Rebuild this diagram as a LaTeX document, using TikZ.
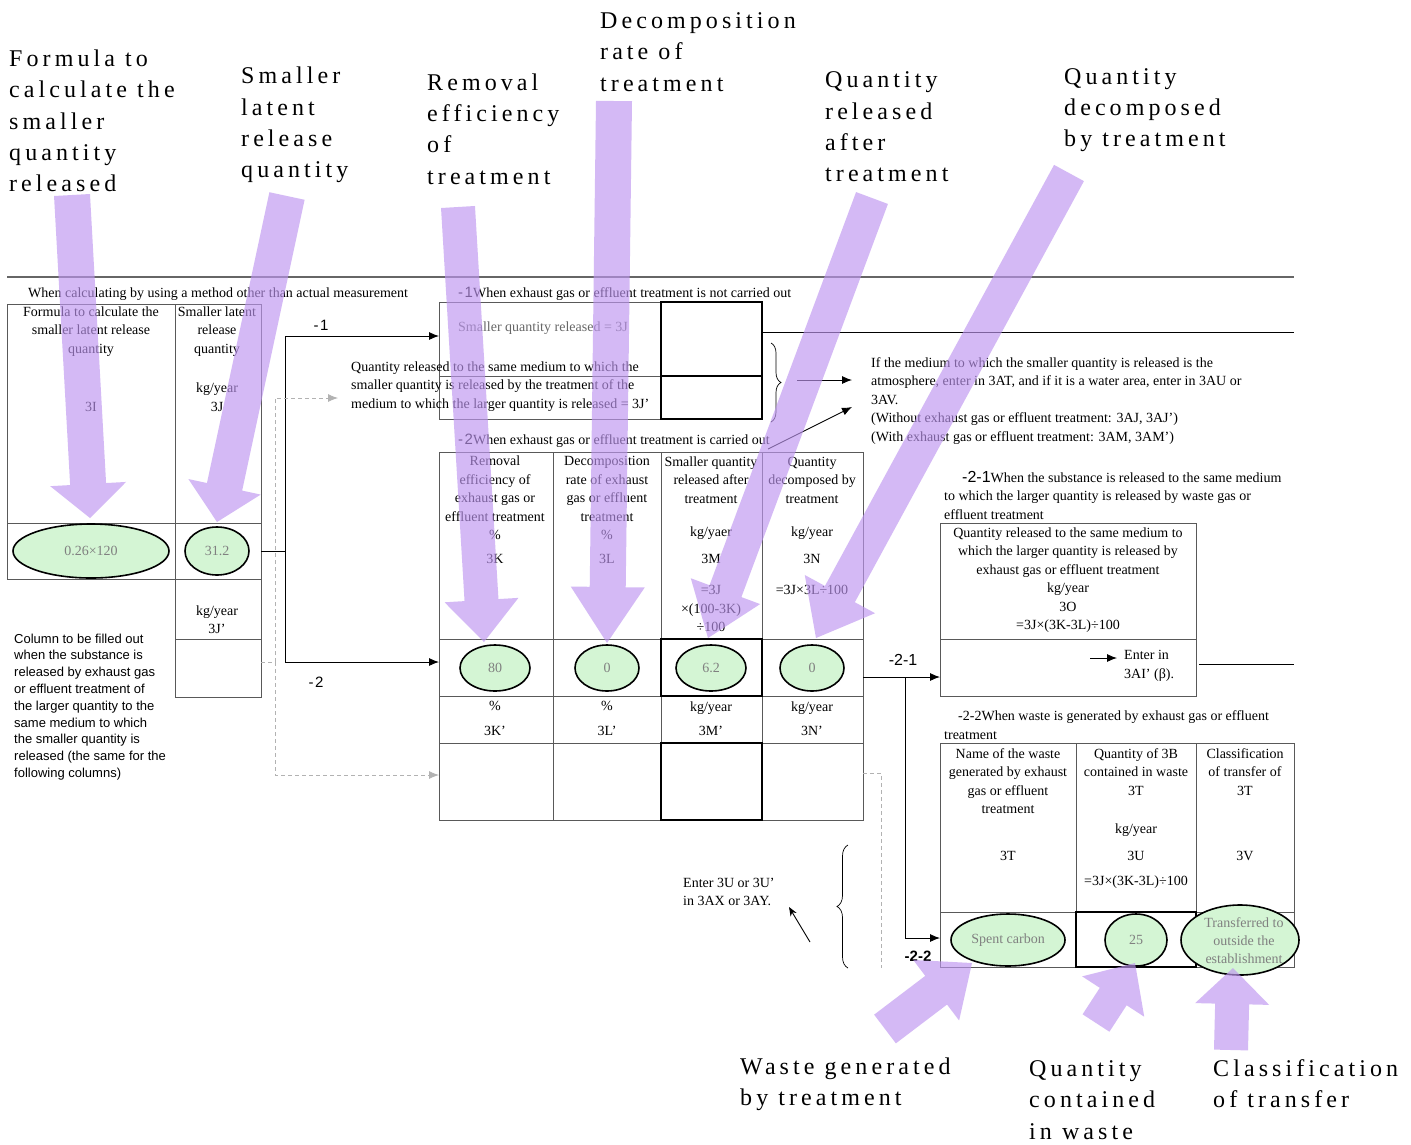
\documentclass[tikz,border=0pt]{standalone}
\usepackage{fontspec}
\setmainfont{Liberation Serif}
\setsansfont{Liberation Sans}
\newfontfamily\spacedfont[LetterSpace=17]{Liberation Serif}
\usetikzlibrary{arrows.meta,calc,shapes.geometric,decorations.pathreplacing}
\definecolor{lav}{RGB}{190,150,240}
\definecolor{egreen}{RGB}{212,245,212}
\newcommand{\bigarrow}[7]{%
  \coordinate (pa) at (#1,#2); \coordinate (pb) at (#3,#4);
  \coordinate (ph) at ($(pb)!#7pt!(pa)$);
  \fill[parrow] ($(pa)!#5pt!90:(pb)$) -- ($(ph)!#5pt!-90:(pa)$) -- ($(ph)!#6pt!-90:(pa)$) -- (pb)
    -- ($(ph)!#6pt!90:(pa)$) -- ($(ph)!#5pt!90:(pa)$) -- ($(pa)!#5pt!-90:(pb)$) -- cycle;}
\tikzset{
  cellbox/.style={draw=black!65, line width=0.9pt, inner sep=0pt, outer sep=0pt, anchor=north west},
  thk/.style={draw=black, line width=2pt},
  txt/.style={font=\fontsize{14}{18.5}\selectfont, inner sep=0pt, align=center},
  txl/.style={txt, align=left, anchor=west},
  big/.style={font=\spacedfont\fontsize{24}{31.3}\selectfont, inner sep=0pt, align=left, anchor=west},
  ell/.style={ellipse, draw=black, line width=1.6pt, fill=egreen, inner sep=0pt, text=black!50, font=\fontsize{14}{18}\selectfont},
  conn/.style={draw=black, line width=0.9pt},
  arr/.style={conn, -{Latex[length=10pt,width=8pt]}},
  gdash/.style={draw=black!30, dash pattern=on 4pt off 3pt, line width=0.8pt},
  garr/.style={gdash, -{Latex[length=10pt,width=8pt]}},
  lab/.style={font=\sffamily\fontsize{15}{15}\selectfont, inner sep=0pt},
  parrow/.style={fill=lav, fill opacity=0.66},
}
\begin{document}
\begin{tikzpicture}[x=1pt,y=-1pt]
\useasboundingbox (0,0) rectangle (1411,1144);
\fill[white] (0,0) rectangle (1411,1144);

% top rule
\coordinate (hl0) at (7,277); \coordinate (hl1) at (1294,277);
\draw[draw=black!60, line width=1.5pt] (hl0) -- (hl1);

% big labels
\node[big] (bl1) at (9,121) {Formula to\\calculate the\\smaller\\quantity\\released};
\node[big] (bl2) at (241,125) {Smaller\\latent\\release\\quantity};
\node[big] (bl3) at (427,129) {Removal\\efficiency\\of\\treatment};
\node[big] (bl4) at (600,52) {Decomposition\\rate of\\treatment};
\node[big] (bl5) at (825,127) {Quantity\\released\\after\\treatment};
\node[big] (bl6) at (1064,110) {Quantity\\decomposed\\by treatment};
\node[big] (bl7) at (740,1084) {Waste generated\\by treatment};
\node[big] (bl8) at (1029,1100) {Quantity\\contained\\in waste};
\node[big] (bl9) at (1213,1084) {Classification\\of transfer};

% left table
\node[txl] (hdr) at (28,294) {When calculating by using a method other than actual measurement};
\node[cellbox, minimum width=168pt, minimum height=219pt] (L1) at (7,304) {};
\node[cellbox, minimum width=168pt, minimum height=56pt] (L2) at (7,523) {};
\node[cellbox, minimum width=86pt, minimum height=219pt] (R1) at (175,304) {};
\node[cellbox, minimum width=86pt, minimum height=56pt] (R2) at (175,523) {};
\node[cellbox, minimum width=86pt, minimum height=60pt] (R3) at (175,579) {};
\node[cellbox, minimum width=86pt, minimum height=58pt] (R4) at (175,639) {};
\node[txt] (h3Ia) at (91,331.5) {Formula to calculate the\\smaller latent release\\quantity};
\node[txt] (h3I) at (91,407) {3I};
\node[txt] (h3Ja) at (217,331.5) {Smaller latent\\release\\quantity};
\node[txt] (h3Jb) at (217,397) {kg/year\\3J};
\node[txt] (h3Jc) at (217,619.5) {kg/year\\3J'};
\node[ell, minimum width=156pt, minimum height=54pt] (e026) at (91,551) {0.26×120};
\node[ell, minimum width=64pt, minimum height=48pt] (e312) at (217,551) {31.2};
\node[font=\sffamily\fontsize{13}{16.8}\selectfont, align=left, anchor=west, inner sep=0pt] (coltxt) at (14,707)
  {Column to be filled out\\when the substance is\\released by exhaust gas\\or effluent treatment of\\the larger quantity to the\\same medium to which\\the smaller quantity is\\released (the same for the\\following columns)};

% -1 box
\node[txl] (t1hdr) at (458,294) {{\sffamily\fontsize{15}{15}\selectfont -\kern1.5pt 1}When exhaust gas or effluent treatment is not carried out};
\node[cellbox, minimum width=222pt, minimum height=74pt] (B1a) at (439,302) {};
\node[cellbox, minimum width=222pt, minimum height=43pt] (B1b) at (439,376) {};
\node[cellbox, thk, minimum width=101pt, minimum height=74pt] (B1c) at (661,302) {};
\node[cellbox, thk, minimum width=101pt, minimum height=43pt] (B1d) at (661,376) {};
\node[txt, text=black!60] (t1a) at (543,328) {Smaller quantity released = 3J};
\node[txl] (t1b) at (351,386.5) {Quantity released to the same medium to which the\\smaller quantity is released by the treatment of the\\medium to which the larger quantity is released = 3J'};
\node[txl] (medtxt) at (871,401) {If the medium to which the smaller quantity is released is the\\atmosphere, enter in 3AT, and if it is a water area, enter in 3AU or\\3AV.\\(Without exhaust gas or effluent treatment: 3AJ, 3AJ')\\(With exhaust gas or effluent treatment: 3AM, 3AM')};

% -2 table
\node[txl] (t2hdr) at (458,441) {{\sffamily\fontsize{15}{15}\selectfont -\kern1.5pt 2}When exhaust gas or effluent treatment is carried out};
\foreach \c/\xa/\xb in {1/439/553,2/553/661,3/661/762,4/762/863}{
  \foreach \r/\ya/\yb in {1/452/639,2/639/696,3/696/743,4/743/820}{
    \node[cellbox, minimum width={(\xb-\xa)*1pt}, minimum height={(\yb-\ya)*1pt}] (T\c\r) at (\xa,\ya) {};
  }}
\draw[thk] (T32.north west) rectangle (T32.south east);
\draw[thk] (T34.north west) rectangle (T34.south east);
\node[txt] (c1a) at (495,498) {Removal\\efficiency of\\exhaust gas or\\effluent treatment\\\%};
\node[txt] (c1b) at (495,559) {3K};
\node[txt] (c2a) at (607,498) {Decomposition\\rate of exhaust\\gas or effluent\\treatment\\\%};
\node[txt] (c2b) at (607,559) {3L};
\node[txt] (c3a) at (711,480) {Smaller quantity\\released after\\treatment};
\node[txt] (c3b) at (711,533) {kg/yaer};
\node[txt] (c3c) at (711,559) {3M};
\node[txt] (c3d) at (711,608.5) {=3J\\×(100-3K)\\÷100};
\node[txt] (c4a) at (812,480) {Quantity\\decomposed by\\treatment};
\node[txt] (c4b) at (812,533) {kg/year};
\node[txt] (c4c) at (812,559) {3N};
\node[txt] (c4d) at (812,590) {=3J×3L÷100};
\node[ell, minimum width=70pt, minimum height=46pt] (e80) at (495,668) {80};
\node[ell, minimum width=64pt, minimum height=46pt] (e0a) at (607,668) {0};
\node[ell, minimum width=70pt, minimum height=46pt] (e62) at (711,668) {6.2};
\node[ell, minimum width=64pt, minimum height=46pt] (e0b) at (812,668) {0};
\node[txt] (u1) at (495,718.5) {\%\\[6pt]3K'};
\node[txt] (u2) at (607,718.5) {\%\\[6pt]3L'};
\node[txt] (u3) at (711,718.5) {kg/year\\[6pt]3M'};
\node[txt] (u4) at (812,718.5) {kg/year\\[6pt]3N'};

% -2-1 box
\node[txl] (t21hdr) at (944,495) {\hspace*{18pt}{\sffamily\fontsize{16}{16}\selectfont -2-1}When the substance is released to the same medium\\to which the larger quantity is released by waste gas or\\effluent treatment};
\node[cellbox, minimum width=256pt, minimum height=116pt] (S1) at (940,523) {};
\node[cellbox, minimum width=256pt, minimum height=57pt] (S2) at (940,639) {};
\node[txt] (t21b) at (1068,580) {Quantity released to the same medium to\\which the larger quantity is released by\\exhaust gas or effluent treatment\\kg/year\\3O\\=3J×(3K-3L)÷100};
\node[txl] (enter) at (1124,666) {Enter in\\3AI' (β).};
\coordinate (ea1) at (1090,658); \coordinate (ea2) at (1117,658);
\draw[arr] (ea1) -- (ea2);
\coordinate (s2r) at (1199,664); \coordinate (s2e) at (1294,664);
\draw[conn] (s2r) -- (s2e);

% -2-2 table
\node[txl] (t22hdr) at (944,725) {\hspace*{14pt}-2-2When waste is generated by exhaust gas or effluent\\treatment};
\foreach \c/\xa/\xb in {1/940/1076,2/1076/1196,3/1196/1294}{
  \foreach \r/\ya/\yb in {1/743/912,2/912/967}{
    \node[cellbox, minimum width={(\xb-\xa)*1pt}, minimum height={(\yb-\ya)*1pt}] (W\c\r) at (\xa,\ya) {};
  }}
\draw[thk] (W22.north west) rectangle (W22.south east);
\node[txt] (w1a) at (1008,781) {Name of the waste\\generated by exhaust\\gas or effluent\\treatment};
\node[txt] (w1b) at (1008,856) {3T};
\node[txt] (w2a) at (1136,772) {Quantity of 3B\\contained in waste\\3T};
\node[txt] (w2b) at (1136,830) {kg/year};
\node[txt] (w2c) at (1136,856) {3U};
\node[txt] (w2d) at (1136,882) {=3J×(3K-3L)÷100};
\node[txt] (w3a) at (1245,772) {Classification\\of transfer of\\3T};
\node[txt] (w3b) at (1245,856) {3V};
\node[ell, minimum width=114pt, minimum height=52pt] (espent) at (1008,940) {Spent carbon};
\node[ell, minimum width=62pt, minimum height=52pt] (e25) at (1136,940) {25};
\node[ell, minimum width=118pt, minimum height=70pt] (etrans) at (1240,940) {};
\node[txt, text=black!50, font=\fontsize{14}{18}\selectfont] (etranst) at (1244,941) {Transferred to\\outside the\\establishment};

% left note with brace
\node[txl] (enter3u) at (683,892) {Enter 3U or 3U'\\in 3AX or 3AY.};
\coordinate (ua) at (810,942); \coordinate (ub) at (789,907);
\draw[conn, -{Stealth[length=9pt,width=7pt]}] (ua) -- (ub);
\coordinate (bb0) at (848,968); \coordinate (bb1) at (848,845);
\draw[conn, line width=0.7pt, decorate, decoration={brace, amplitude=11pt}] (bb0) -- (bb1);

% connectors
\coordinate (jm) at (285,551); \coordinate (jv1) at (285,336); \coordinate (jv2) at (285,662);
\draw[conn] (R2.east) -- (jm);
\draw[conn] (jv1) -- (jv2);
\draw[arr] (jv1) -- (B1a.west |- jv1);
\draw[arr] (jv2) -- (T12.west |- jv2);
\node[lab] (lm1) at (321,325) {-\kern1.5pt 1};
\node[lab] (lm2) at (316,682) {-\kern1.5pt 2};

\coordinate (g0) at (275,662); \coordinate (g1) at (275,398); \coordinate (g2) at (275,775);
\coordinate (g1e) at (338,398);
\draw[gdash] (R4.east |- g0) -- (g0);
\draw[garr] (g0) -- (g1) -- (g1e);
\draw[garr] (g0) -- (g2) -- (T14.west |- g2);
\coordinate (g3) at (881,773); \coordinate (g4) at (881,968);
\draw[gdash] (T44.east |- g3) -- (g3) -- (g4);

\coordinate (r1) at (1294,332);
\draw[conn] (B1c.east |- r1) -- (r1);
\coordinate (sb0) at (771,343); \coordinate (sb1) at (771,422);
\draw[conn, line width=0.7pt, decorate, decoration={brace, amplitude=10pt}] (sb0) -- (sb1);
\coordinate (bt) at (797,380); \coordinate (mt1) at (852,380);
\draw[arr] (bt) -- (mt1);
\coordinate (c2s) at (768,449); \coordinate (c2e) at (852,407);
\draw[arr] (c2s) -- (c2e);

\coordinate (k0) at (905,677); \coordinate (k1) at (905,938);
\draw[arr] (T42.east |- k0) -- (S2.west |- k0);
\draw[conn] (k0) -- (k1);
\draw[arr] (k1) -- (W12.west |- k1);
\node[lab, font=\sffamily\fontsize{16}{16}\selectfont] (l21) at (903,660) {-2-1};
\node[lab, font=\sffamily\bfseries\fontsize{15}{15}\selectfont] (l22) at (918,956) {-2-2};

% purple pointer arrows
\bigarrow{72}{195}{90}{518}{18}{38}{34}
\bigarrow{287}{196}{217}{522}{18}{37}{36}
\bigarrow{458}{207}{484}{642}{17}{37}{42}
\bigarrow{614}{101}{607}{643}{18}{37}{56}
\bigarrow{872}{198}{708}{638}{17}{37}{50}
\bigarrow{1069}{173}{816}{638}{17}{40}{50}
\bigarrow{885}{1029}{972}{963}{18}{38}{45}
\bigarrow{1096}{1023}{1135}{963}{16}{37}{40}
\bigarrow{1231}{1050}{1233}{968}{17}{37}{36}
\end{tikzpicture}
\end{document}
